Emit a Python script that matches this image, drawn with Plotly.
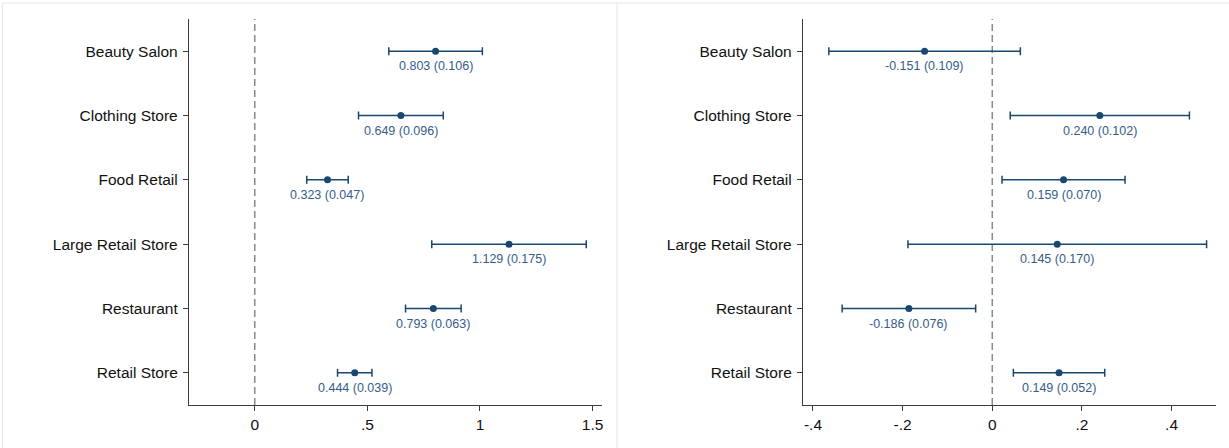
import plotly.graph_objects as go

# Store types shown on both panels (top to bottom)
categories = ["Beauty Salon", "Clothing Store", "Food Retail",
              "Large Retail Store", "Restaurant", "Retail Store"]

# Left panel: point estimates and standard errors
left_coef = [0.803, 0.649, 0.323, 1.129, 0.793, 0.444]
left_se = [0.106, 0.096, 0.047, 0.175, 0.063, 0.039]

# Right panel: point estimates and standard errors
right_coef = [-0.151, 0.240, 0.159, 0.145, -0.186, 0.149]
right_se = [0.109, 0.102, 0.070, 0.170, 0.076, 0.052]

# Axis ticks
left_ticks = [0, 0.5, 1, 1.5]
left_ticktext = ["0", ".5", "1", "1.5"]
right_ticks = [-0.4, -0.2, 0, 0.2, 0.4]
right_ticktext = ["-.4", "-.2", "0", ".2", ".4"]

Z = 1.96  # 95% confidence interval

NAVY = "#1a476f"
LABEL = "#345d89"
AXIS = "#3c3c3c"
FONT = "Liberation Sans, Arial, sans-serif"

W, H = 1229, 448
y_dom = [(H - 405) / H, (H - 19) / H]
left_dom = [189 / W, 602 / W]
right_dom = [803 / W, 1216 / W]

fig = go.Figure()


def add_panel(coef, se, xaxis, yaxis):
    fig.add_trace(go.Scatter(
        x=coef, y=categories, xaxis=xaxis, yaxis=yaxis,
        mode="markers",
        marker=dict(color=NAVY, size=7),
        error_x=dict(type="data", array=[Z * s for s in se], visible=True,
                     color=NAVY, thickness=1.5, width=4),
        showlegend=False, hoverinfo="skip",
    ))
    for c, s, cat in zip(coef, se, categories):
        fig.add_annotation(
            x=c, y=cat, xref=xaxis, yref=yaxis,
            text=f"{c:.3f} ({s:.3f})", showarrow=False,
            yshift=-15, font=dict(size=12.5, color=LABEL, family=FONT),
        )
    # dashed reference line at zero
    fig.add_shape(type="line", x0=0, x1=0, y0=0, y1=1,
                  xref=xaxis, yref=f"{yaxis} domain",
                  line=dict(color="#8a8a8a", width=1.5, dash="7px,4px"),
                  layer="below")


add_panel(left_coef, left_se, "x", "y")
add_panel(right_coef, right_se, "x2", "y2")

axis_common = dict(
    showline=True, linecolor=AXIS, linewidth=1.3,
    ticks="outside", ticklen=5, tickwidth=1.2, tickcolor=AXIS,
    showgrid=False, zeroline=False,
    tickfont=dict(size=15.5, color="#111111", family=FONT),
)

fig.update_layout(
    width=W, height=H,
    margin=dict(l=0, r=0, t=0, b=0),
    paper_bgcolor="white", plot_bgcolor="white",
    xaxis=dict(domain=left_dom, anchor="y", range=[-0.292, 1.542],
               tickvals=left_ticks, ticktext=left_ticktext, **axis_common),
    yaxis=dict(domain=y_dom, anchor="x", type="category",
               categoryorder="array", categoryarray=categories,
               range=[5.5, -0.5], ticklabelstandoff=2, **axis_common),
    xaxis2=dict(domain=right_dom, anchor="y2", range=[-0.4223, 0.4992],
                tickvals=right_ticks, ticktext=right_ticktext, **axis_common),
    yaxis2=dict(domain=y_dom, anchor="x2", type="category",
                categoryorder="array", categoryarray=categories,
                range=[5.5, -0.5], ticklabelstandoff=2, **axis_common),
)

# light panel borders
border = dict(color="#e4ecec", width=1.2)
fig.add_shape(type="line", xref="paper", yref="paper",
              x0=2.5 / W, x1=2.5 / W, y0=0, y1=(H - 3) / H, line=border)
fig.add_shape(type="line", xref="paper", yref="paper",
              x0=2.5 / W, x1=1, y0=(H - 3) / H, y1=(H - 3) / H, line=border)
fig.add_shape(type="line", xref="paper", yref="paper",
              x0=617 / W, x1=617 / W, y0=0, y1=(H - 3) / H, line=border)

fig.write_html("out.html")
